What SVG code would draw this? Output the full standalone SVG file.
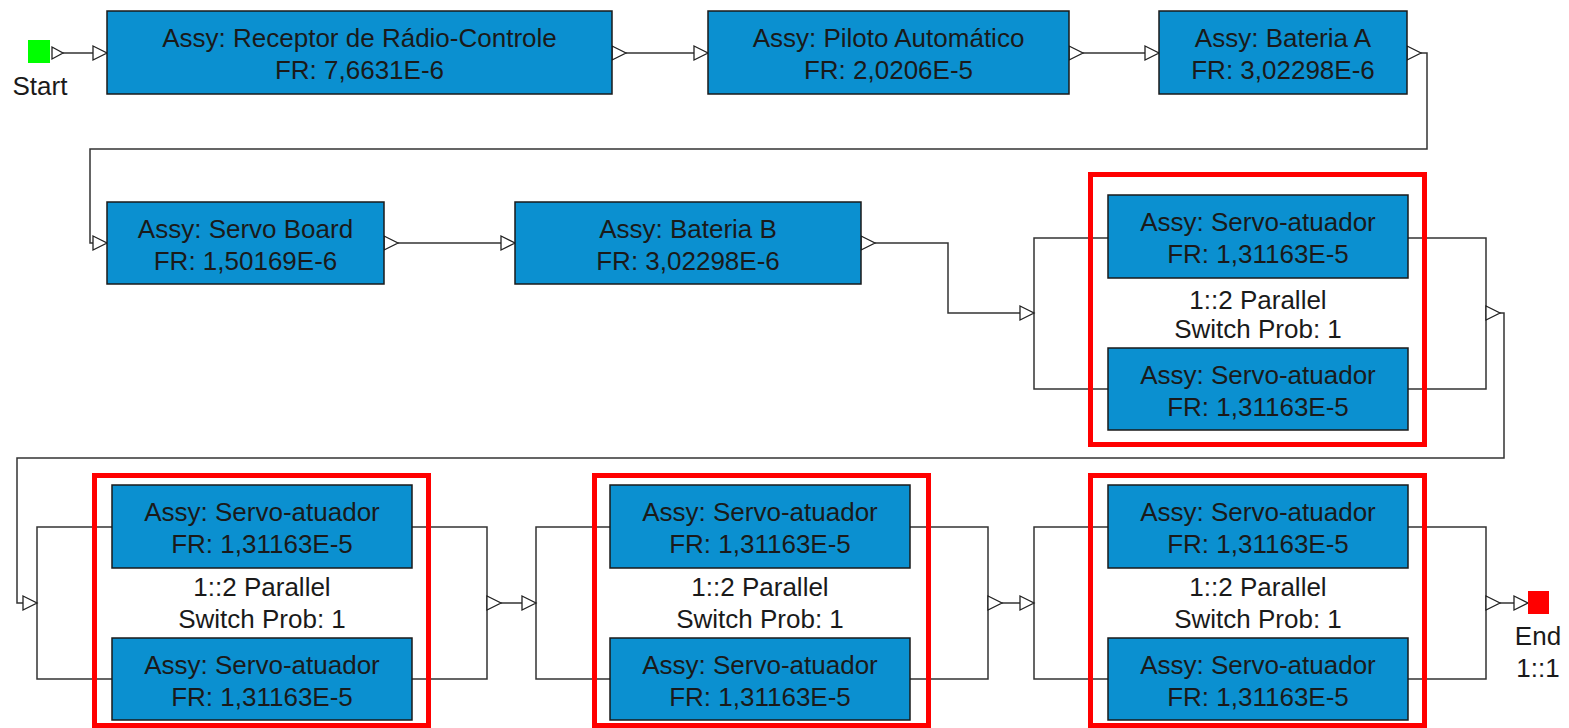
<svg xmlns="http://www.w3.org/2000/svg" xmlns:xlink="http://www.w3.org/1999/xlink" width="1569" height="728" viewBox="0 0 1569 728">
<style>
.blk{fill:#0b90d0;stroke:#1a1a1a;stroke-width:1.5}
.t{font-family:"Liberation Sans",Arial,sans-serif;font-size:26px;fill:#1a1a1a;text-anchor:middle}
.red{fill:none;stroke:#ff0000;stroke-width:5}
.ln{fill:none;stroke:#333;stroke-width:1.5}
.tri{fill:#fff;stroke:#222;stroke-width:1.3}
</style>
<defs>
<polygon id="tri" class="tri" points="0,-7 14,0 0,7"/>
</defs>
<rect width="1569" height="728" fill="#fff"/>
<g id="connectors">
<path class="ln" d="M63,53 H93"/>
<path class="ln" d="M626,53 H694"/>
<path class="ln" d="M1083,53 H1145"/>
<path class="ln" d="M1421,53 H1427 V149 H90 V243 H93"/>
<path class="ln" d="M398,243 H501"/>
<path class="ln" d="M875,243 H948 V313 H1020"/>
<path class="ln" d="M1108,238 H1034 V389 H1108"/>
<path class="ln" d="M1408,238 H1486 V389 H1408"/>
<path class="ln" d="M1500,313 H1504 V458 H17 V603 H23"/>
<path class="ln" d="M112,527 H37 V679 H112"/>
<path class="ln" d="M412,527 H487 V679 H412"/>
<path class="ln" d="M501,603 H522"/>
<path class="ln" d="M610,527 H536 V679 H610"/>
<path class="ln" d="M910,527 H988 V679 H910"/>
<path class="ln" d="M1002,603 H1020"/>
<path class="ln" d="M1108,527 H1034 V679 H1108"/>
<path class="ln" d="M1408,527 H1486 V679 H1408"/>
<path class="ln" d="M1500,603 H1514"/>
<polygon class="tri" points="52,47 63,53 52,59"/>
<use xlink:href="#tri" x="93" y="53"/>
<use xlink:href="#tri" x="612" y="53"/>
<use xlink:href="#tri" x="694" y="53"/>
<use xlink:href="#tri" x="1069" y="53"/>
<use xlink:href="#tri" x="1145" y="53"/>
<use xlink:href="#tri" x="1407" y="53"/>
<use xlink:href="#tri" x="93" y="243"/>
<use xlink:href="#tri" x="384" y="243"/>
<use xlink:href="#tri" x="501" y="243"/>
<use xlink:href="#tri" x="861" y="243"/>
<use xlink:href="#tri" x="1020" y="313"/>
<use xlink:href="#tri" x="1486" y="313"/>
<use xlink:href="#tri" x="23" y="603"/>
<use xlink:href="#tri" x="487" y="603"/>
<use xlink:href="#tri" x="522" y="603"/>
<use xlink:href="#tri" x="988" y="603"/>
<use xlink:href="#tri" x="1020" y="603"/>
<use xlink:href="#tri" x="1486" y="603"/>
<use xlink:href="#tri" x="1514" y="603"/>
</g>
<g id="start">
<rect x="28" y="40" width="22" height="23" fill="#00ff00"/>
<text class="t" x="40" y="95">Start</text>
</g>
<g id="b1">
<rect class="blk" x="107" y="11" width="505" height="83"/>
<text class="t" x="359.5" y="47">Assy: Receptor de Rádio-Controle</text>
<text class="t" x="359.5" y="79">FR: 7,6631E-6</text>
</g>
<g id="b2">
<rect class="blk" x="708" y="11" width="361" height="83"/>
<text class="t" x="888.5" y="47">Assy: Piloto Automático</text>
<text class="t" x="888.5" y="79">FR: 2,0206E-5</text>
</g>
<g id="b3">
<rect class="blk" x="1159" y="11" width="248" height="83"/>
<text class="t" x="1283" y="47">Assy: Bateria A</text>
<text class="t" x="1283" y="79">FR: 3,02298E-6</text>
</g>
<g id="b4">
<rect class="blk" x="107" y="202" width="277" height="82"/>
<text class="t" x="245.5" y="238">Assy: Servo Board</text>
<text class="t" x="245.5" y="270">FR: 1,50169E-6</text>
</g>
<g id="b5">
<rect class="blk" x="515" y="202" width="346" height="82"/>
<text class="t" x="688" y="238">Assy: Bateria B</text>
<text class="t" x="688" y="270">FR: 3,02298E-6</text>
</g>
<g id="g1">
<rect class="red" x="1090.5" y="174.5" width="334" height="270"/>
<rect class="blk" x="1108" y="195" width="300" height="83"/>
<text class="t" x="1258" y="231">Assy: Servo-atuador</text>
<text class="t" x="1258" y="263">FR: 1,31163E-5</text>
<text class="t" x="1258" y="309">1::2 Parallel</text>
<text class="t" x="1258" y="338">Switch Prob: 1</text>
<rect class="blk" x="1108" y="348" width="300" height="82"/>
<text class="t" x="1258" y="384">Assy: Servo-atuador</text>
<text class="t" x="1258" y="416">FR: 1,31163E-5</text>
</g>
<g id="g2">
<rect class="red" x="94.5" y="475.5" width="334" height="250"/>
<rect class="blk" x="112" y="485" width="300" height="83"/>
<text class="t" x="262" y="521">Assy: Servo-atuador</text>
<text class="t" x="262" y="553">FR: 1,31163E-5</text>
<text class="t" x="262" y="596">1::2 Parallel</text>
<text class="t" x="262" y="628">Switch Prob: 1</text>
<rect class="blk" x="112" y="638" width="300" height="82"/>
<text class="t" x="262" y="674">Assy: Servo-atuador</text>
<text class="t" x="262" y="706">FR: 1,31163E-5</text>
</g>
<g id="g3">
<rect class="red" x="594.5" y="475.5" width="334" height="250"/>
<rect class="blk" x="610" y="485" width="300" height="83"/>
<text class="t" x="760" y="521">Assy: Servo-atuador</text>
<text class="t" x="760" y="553">FR: 1,31163E-5</text>
<text class="t" x="760" y="596">1::2 Parallel</text>
<text class="t" x="760" y="628">Switch Prob: 1</text>
<rect class="blk" x="610" y="638" width="300" height="82"/>
<text class="t" x="760" y="674">Assy: Servo-atuador</text>
<text class="t" x="760" y="706">FR: 1,31163E-5</text>
</g>
<g id="g4">
<rect class="red" x="1090.5" y="475.5" width="334" height="250"/>
<rect class="blk" x="1108" y="485" width="300" height="83"/>
<text class="t" x="1258" y="521">Assy: Servo-atuador</text>
<text class="t" x="1258" y="553">FR: 1,31163E-5</text>
<text class="t" x="1258" y="596">1::2 Parallel</text>
<text class="t" x="1258" y="628">Switch Prob: 1</text>
<rect class="blk" x="1108" y="638" width="300" height="82"/>
<text class="t" x="1258" y="674">Assy: Servo-atuador</text>
<text class="t" x="1258" y="706">FR: 1,31163E-5</text>
</g>
<g id="end">
<rect x="1528" y="591" width="21" height="23" fill="#ff0000"/>
<text class="t" x="1538" y="645">End</text>
<text class="t" x="1538" y="677">1::1</text>
</g>
</svg>
